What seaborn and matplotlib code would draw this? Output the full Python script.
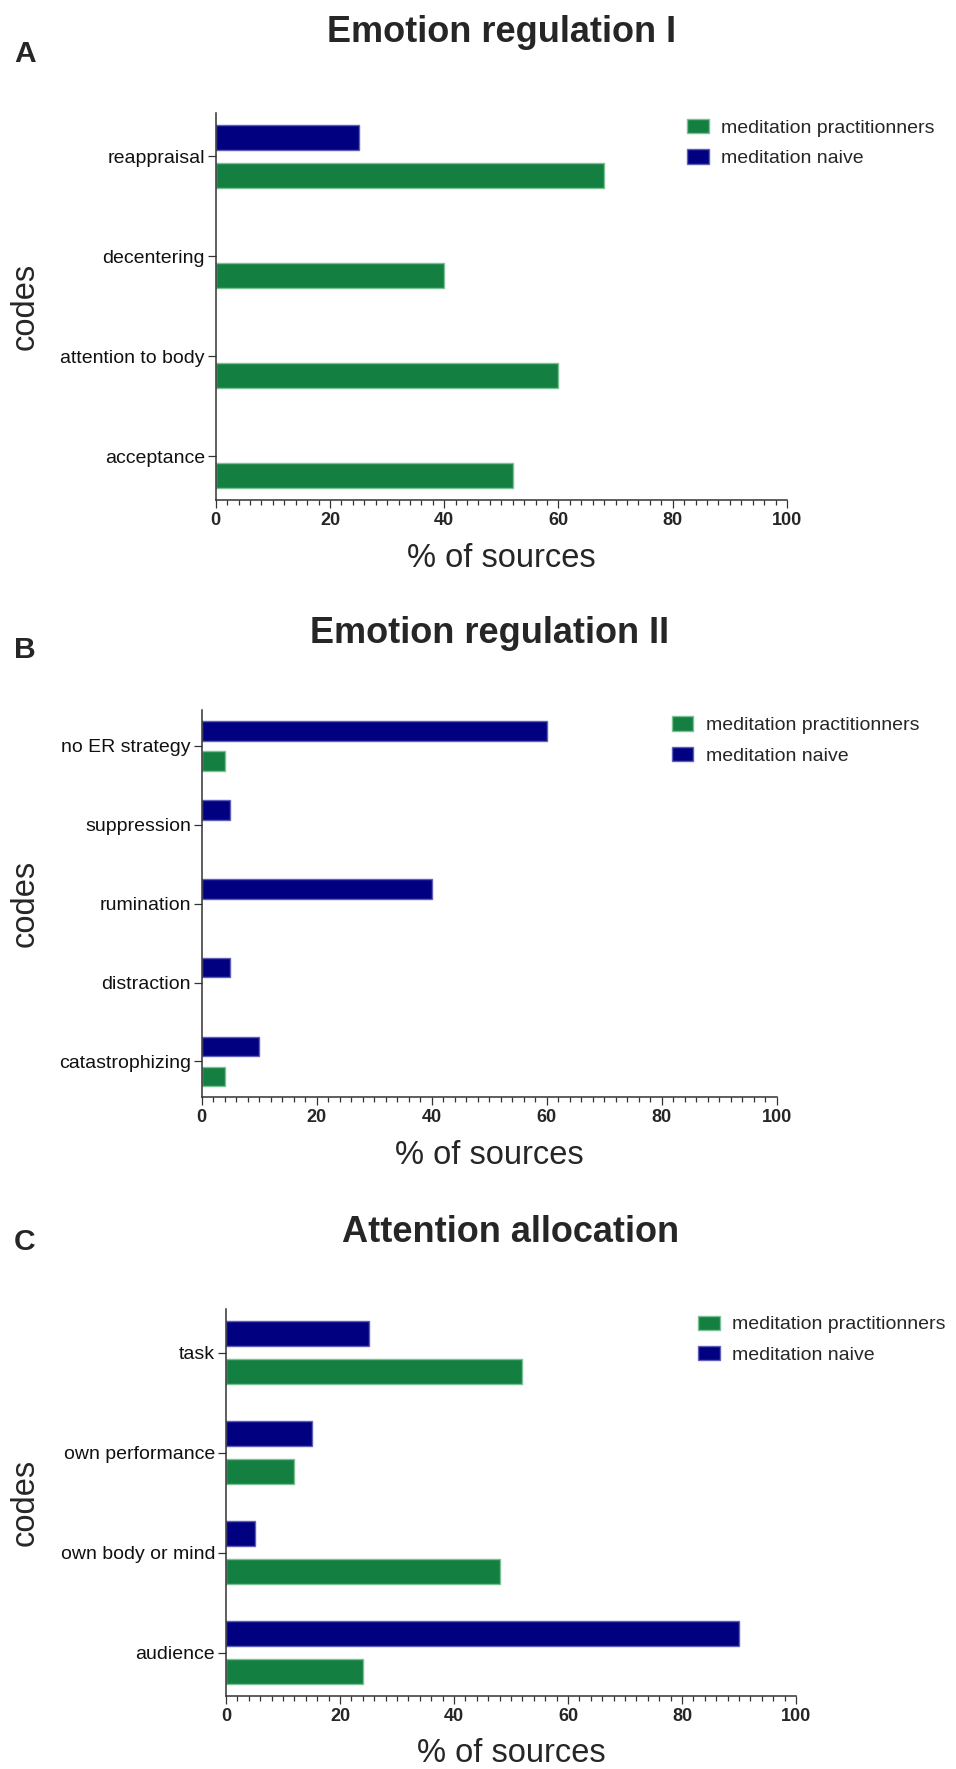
import numpy as np
import pandas as pd
import matplotlib
matplotlib.use("Agg")
import matplotlib.pyplot as plt
import seaborn as sns
from matplotlib.ticker import MultipleLocator

sns.set_theme(style="ticks")
plt.rcParams["font.family"] = ["Liberation Sans", "DejaVu Sans"]

# ---------------- data ----------------
group_prac = "meditation practitionners"
group_naive = "meditation naive"

codes_A = ["reappraisal", "decentering", "attention to body", "acceptance"]
prac_A = [68, 40, 60, 52]
naive_A = [25, 0, 0, 0]

codes_B = ["no ER strategy", "suppression", "rumination", "distraction", "catastrophizing"]
prac_B = [4, 0, 0, 0, 4]
naive_B = [60, 5, 40, 5, 10]

codes_C = ["task", "own performance", "own body or mind", "audience"]
prac_C = [52, 12, 48, 24]
naive_C = [25, 15, 5, 90]

titles = ["Emotion regulation I", "Emotion regulation II", "Attention allocation"]
letters = ["A", "B", "C"]
x_ticks = [0, 20, 40, 60, 80, 100]

# ---------------- style ----------------
W, H, DPI = 956, 1769, 100
fill = {group_prac: "#137F41", group_naive: "#000080"}
edge = {group_prac: "#7cc196", group_naive: "#6060b8"}

# panel geometry in pixels: (left, top, right, bottom)
layout = [
    dict(rect=(215.7, 112.7, 787.0, 500.0), title_base=42.0, leg=(687.0, 119.0), let_base=61.7, xl_top=542.5),
    dict(rect=(201.7, 710.0, 776.7, 1097.3), title_base=642.5, leg=(671.5, 716.5), let_base=657.5, xl_top=1140.5),
    dict(rect=(226.0, 1309.3, 796.0, 1696.0), title_base=1242.0, leg=(697.6, 1315.5), let_base=1250.0, xl_top=1738.0),
]

fig = plt.figure(figsize=(W / DPI, H / DPI), dpi=DPI)

panels = [(codes_A, prac_A, naive_A), (codes_B, prac_B, naive_B), (codes_C, prac_C, naive_C)]

for i, ((codes, prac, naive), lay) in enumerate(zip(panels, layout)):
    l, t, r, b = lay["rect"]
    ax = fig.add_axes([l / W, 1 - b / H, (r - l) / W, (b - t) / H])
    n = len(codes)
    df = pd.DataFrame({
        "code": codes + codes,
        "group": [group_naive] * n + [group_prac] * n,
        "value": naive + prac,
    })
    hue_order = [group_naive, group_prac]
    sns.barplot(data=df, y="code", x="value", hue="group", order=codes,
                hue_order=hue_order, palette=fill, orient="h", width=0.76,
                gap=0.34, errorbar=None, ax=ax, saturation=1)
    for cont, g in zip(ax.containers, hue_order):
        for bar in cont:
            bar.set_edgecolor(edge[g])
            bar.set_linewidth(1.0)
            if bar.get_width() == 0:
                bar.set_visible(False)

    margin = 0.455 if n == 5 else 0.435
    ax.set_ylim(n - 1 + margin, -margin)
    ax.set_xlim(0, 100)

    ax.xaxis.set_major_locator(MultipleLocator(20))
    ax.xaxis.set_minor_locator(MultipleLocator(2))
    ax.set_xticks(x_ticks)
    ax.set_xticklabels([str(v) for v in x_ticks], fontweight="bold", fontsize=13)
    ax.tick_params(axis="x", which="major", length=5.8, width=0.9, pad=2.7, color="#333333")
    ax.tick_params(axis="x", which="minor", length=3.6, width=0.9, color="#333333")
    ax.tick_params(axis="y", which="major", length=5.8, width=0.9, pad=2.0, labelsize=14, color="#333333")
    for lbl in ax.get_yticklabels():
        lbl.set_color("#111111")

    sns.despine(ax=ax)
    for s in ("left", "bottom"):
        ax.spines[s].set_linewidth(1.1)
        ax.spines[s].set_color("#333333")
        ax.spines[s].set_zorder(5)

    # labels
    ax.set_ylabel("codes", fontsize=23.5)
    ax.yaxis.set_label_coords(40.5 / W, 1 - (t + b) / 2 / H, transform=fig.transFigure)
    ax.set_xlabel("% of sources", fontsize=23.5)
    ax.xaxis.set_label_coords((l + r) / 2 / W, 1 - lay["xl_top"] / H, transform=fig.transFigure)

    pad_pt = (t - lay["title_base"]) * 72 / DPI
    ax.set_title(titles[i], fontsize=26, fontweight="bold", pad=pad_pt)

    fig.text(14 / W, 1 - lay["let_base"] / H, letters[i], fontsize=21.6,
             fontweight="bold", ha="left", va="baseline")

    # legend: practitioners first
    handles, labels = ax.get_legend_handles_labels()
    hmap = dict(zip(labels, handles))
    old = ax.get_legend()
    if old is not None:
        old.remove()
    lx, ly = lay["leg"]
    hs = [hmap[group_prac], hmap[group_naive]]
    for h, g in zip(hs, [group_prac, group_naive]):
        h.set_edgecolor(edge[g])
    ax.legend(hs, [group_prac, group_naive], loc="upper left",
              bbox_to_anchor=(lx / W, 1 - ly / H), bbox_transform=fig.transFigure,
              frameon=False, fontsize=14, handlelength=1.13, handleheight=0.75,
              handletextpad=0.64, labelspacing=0.64, borderpad=0, borderaxespad=0)

fig.savefig("out.png", dpi=DPI)
